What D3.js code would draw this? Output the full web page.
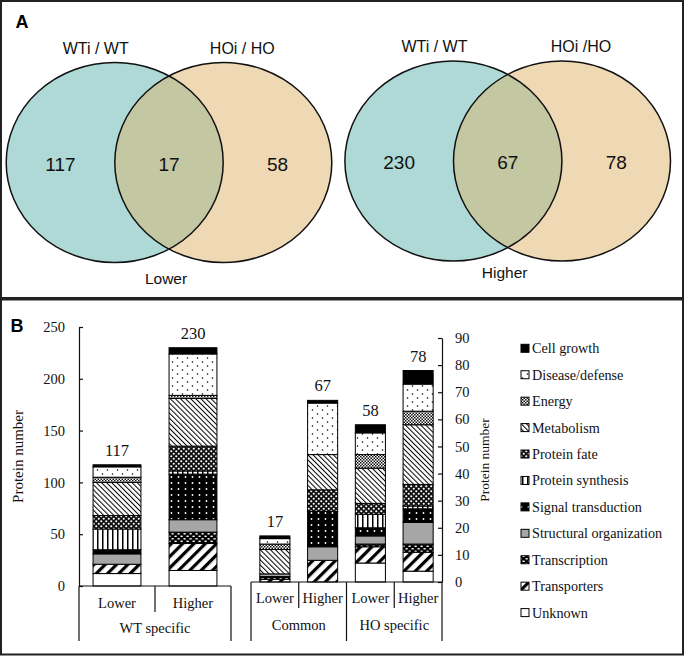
<!DOCTYPE html>
<html><head><meta charset="utf-8">
<script src="https://cdn.jsdelivr.net/npm/d3@7"></script>
<style>body{margin:0;background:#fff}svg{display:block}</style>
</head><body><svg id="c" width="685" height="656"></svg>
<script>
// ---------- DATA ----------
const vennTitles = ["Lower", "Higher"];
const vennLeftSet = ["WTi / WT", "WTi / WT"];
const vennRightSet = ["HOi / HO", "HOi /HO"];
const vennCounts = [[117, 17, 58], [230, 67, 78]];

const legendCategories = ["Cell growth", "Disease/defense", "Energy", "Metabolism", "Protein fate",
  "Protein synthesis", "Signal transduction", "Structural organization", "Transcription", "Transporters", "Unknown"];

const leftGroups = ["WT specific"];
const leftBars = ["Lower", "Higher"];
const rightGroups = ["Common", "HO specific"];
const rightBars = ["Lower", "Higher", "Lower", "Higher"];

// values in legend order
const wtLower      = [2, 10, 5, 32, 13, 20, 4, 10, 0, 9, 12];
const wtHigher     = [6, 40, 3, 46, 24, 3, 44, 12, 11, 26, 15];
const commonLower  = [1, 2, 2, 9, 0, 0, 0, 1, 1, 1, 0];
const commonHigher = [1, 19, 0, 13, 8, 0, 13, 5, 0, 8, 0];
const hoLower      = [3, 8, 5, 13, 4, 5, 3, 3, 1, 6, 7];
const hoHigher     = [5, 10, 5, 22, 8, 1, 5, 8, 3, 7, 4];

const leftTicks = [0, 50, 100, 150, 200, 250];
const rightTicks = [0, 10, 20, 30, 40, 50, 60, 70, 80, 90];

// ---------- SETUP ----------
const svg = d3.select("#c");
const defs = svg.append("defs");
const SERIF = "'Liberation Serif','Times New Roman',serif";
const SANS = "'Liberation Sans',Arial,sans-serif";

function pattern(id, w, h, bg, draw, transform) {
  const p = defs.append("pattern").attr("id", id).attr("patternUnits", "userSpaceOnUse")
    .attr("width", w).attr("height", h);
  if (transform) p.attr("patternTransform", transform);
  p.append("rect").attr("width", w).attr("height", h).attr("fill", bg);
  draw(p);
}
pattern("p-dis", 10, 8, "#fff", p => {
  p.append("circle").attr("cx", 2.5).attr("cy", 2).attr("r", 0.8).attr("fill", "#000");
  p.append("circle").attr("cx", 7.5).attr("cy", 6).attr("r", 0.8).attr("fill", "#000");
});
pattern("p-energy", 3, 3, "#fff", p => {
  p.append("rect").attr("width", 1.5).attr("height", 1.5).attr("fill", "#111");
  p.append("rect").attr("x", 1.5).attr("y", 1.5).attr("width", 1.5).attr("height", 1.5).attr("fill", "#111");
});
pattern("p-met", 3.6, 4, "#fff", p => {
  p.append("rect").attr("width", 1).attr("height", 4).attr("fill", "#000");
}, "rotate(-45)");
pattern("p-fate", 5, 5, "#111", p => {
  p.append("circle").attr("cx", 1.25).attr("cy", 1.25).attr("r", 1.05).attr("fill", "#fff");
  p.append("circle").attr("cx", 3.75).attr("cy", 3.75).attr("r", 1.05).attr("fill", "#fff");
});
pattern("p-synth", 5, 5, "#fff", p => {
  p.append("rect").attr("x", 2).attr("width", 1.5).attr("height", 5).attr("fill", "#000");
});
pattern("p-sig", 7, 6, "#000", p => {
  p.append("circle").attr("cx", 3.5).attr("cy", 3).attr("r", 0.9).attr("fill", "#fff");
});
pattern("p-transc", 6, 5, "#000", p => {
  p.append("rect").attr("x", 0.5).attr("y", 0.6).attr("width", 2.2).attr("height", 1.4).attr("fill", "#fff");
  p.append("rect").attr("x", 3.5).attr("y", 3.1).attr("width", 2.2).attr("height", 1.4).attr("fill", "#fff");
});
pattern("p-transp", 8, 8, "#fff", p => {
  p.append("rect").attr("width", 3.2).attr("height", 8).attr("fill", "#000");
}, "rotate(45)");

const fills = {
  "Cell growth": "#000", "Disease/defense": "url(#p-dis)", "Energy": "url(#p-energy)",
  "Metabolism": "url(#p-met)", "Protein fate": "url(#p-fate)", "Protein synthesis": "url(#p-synth)",
  "Signal transduction": "url(#p-sig)", "Structural organization": "#a6a6a6",
  "Transcription": "url(#p-transc)", "Transporters": "url(#p-transp)", "Unknown": "#fff"
};

// ---------- FRAMES ----------
svg.append("rect").attr("x", 1).attr("y", 1).attr("width", 682).attr("height", 297)
  .attr("fill", "none").attr("stroke", "#222").attr("stroke-width", 2);
svg.append("rect").attr("x", 1).attr("y", 299.5).attr("width", 682).attr("height", 355)
  .attr("fill", "none").attr("stroke", "#222").attr("stroke-width", 2);
svg.append("text").attr("x", 22).attr("y", 28).attr("text-anchor", "middle")
  .attr("font-family", SANS).attr("font-weight", "bold").attr("font-size", 18).text("A");
svg.append("text").attr("x", 17).attr("y", 332).attr("text-anchor", "middle")
  .attr("font-family", SANS).attr("font-weight", "bold").attr("font-size", 18).text("B");

// ---------- VENN ----------
const vennCx = [169, 507.7], vennCy = [162.5, 161], vennOff = 54.3, rx = 108.5, ry = 100;
const cBlue = "#aed9d6", cBeige = "#eed9b4", cOver = "#c3c7a2";
vennCounts.forEach((counts, k) => {
  const g = svg.append("g");
  const cxA = vennCx[k] - vennOff, cxB = vennCx[k] + vennOff, cy = vennCy[k];
  const clipId = "clipv" + k;
  defs.append("clipPath").attr("id", clipId).append("ellipse")
    .attr("cx", cxA).attr("cy", cy).attr("rx", rx).attr("ry", ry);
  g.append("ellipse").attr("cx", cxA).attr("cy", cy).attr("rx", rx).attr("ry", ry).attr("fill", cBlue);
  g.append("ellipse").attr("cx", cxB).attr("cy", cy).attr("rx", rx).attr("ry", ry).attr("fill", cBeige);
  g.append("ellipse").attr("cx", cxB).attr("cy", cy).attr("rx", rx).attr("ry", ry).attr("fill", cOver)
    .attr("clip-path", `url(#${clipId})`);
  [cxA, cxB].forEach(cx => g.append("ellipse").attr("cx", cx).attr("cy", cy).attr("rx", rx).attr("ry", ry)
    .attr("fill", "none").attr("stroke", "#111").attr("stroke-width", 1.5));
  const numX = [cxA - rx / 2, vennCx[k], cxB + rx / 2];
  counts.forEach((v, i) => g.append("text").attr("x", numX[i]).attr("y", cy + 8)
    .attr("text-anchor", "middle").attr("font-family", SANS).attr("font-size", 19).attr("fill", "#111").text(v));
  g.append("text").attr("x", cxA - 19).attr("y", cy - 109).attr("text-anchor", "middle")
    .attr("font-family", SANS).attr("font-size", 16).attr("fill", "#111").text(vennLeftSet[k]);
  g.append("text").attr("x", cxB + 19).attr("y", cy - 109).attr("text-anchor", "middle")
    .attr("font-family", SANS).attr("font-size", 16).attr("fill", "#111").text(vennRightSet[k]);
  g.append("text").attr("x", vennCx[k] - 3).attr("y", cy + 121 - k * 4).attr("text-anchor", "middle")
    .attr("font-family", SANS).attr("font-size", 15.5).attr("fill", "#111").text(vennTitles[k]);
});

// ---------- BARS ----------
const stackOrder = legendCategories.slice().reverse();
function rows(list) {
  return list.map(vals => { const o = {}; legendCategories.forEach((c, i) => o[c] = vals[i]); return o; });
}
function drawChart(opts) {
  const { data, x, y, labels, groups, groupSize, labelY, groupY, shortEnd, longEnd } = opts;
  const g = svg.append("g");
  const bw = x.bandwidth(), barW = bw * 0.63;
  const series = d3.stack().keys(stackOrder)(rows(data));
  series.forEach(s => {
    s.forEach((d, i) => {
      if (d[1] - d[0] <= 0) return;
      g.append("rect").attr("x", x(i) + (bw - barW) / 2).attr("y", y(d[1]))
        .attr("width", barW).attr("height", y(d[0]) - y(d[1]))
        .attr("fill", fills[s.key]).attr("stroke", "#000").attr("stroke-width", 1);
    });
  });
  // totals
  data.forEach((vals, i) => {
    const t = d3.sum(vals);
    g.append("text").attr("x", x(i) + bw / 2).attr("y", y(t) - 9).attr("text-anchor", "middle")
      .attr("font-family", SERIF).attr("font-size", 16.5).attr("fill", "#111").text(t);
  });
  // category axis
  const [x0, x1] = x.range();
  const base = y(0);
  g.append("line").attr("x1", x0).attr("x2", x1).attr("y1", base).attr("y2", base)
    .attr("stroke", "#111").attr("stroke-width", 1.2);
  data.forEach((v, i) => {
    const isGroupEdge = i % groupSize === 0;
    g.append("line").attr("x1", x(i)).attr("x2", x(i)).attr("y1", base).attr("y2", isGroupEdge ? longEnd : shortEnd)
      .attr("stroke", "#111").attr("stroke-width", 1.2);
    g.append("text").attr("x", x(i) + bw / 2).attr("y", labelY).attr("text-anchor", "middle")
      .attr("font-family", SERIF).attr("font-size", 14.5).attr("fill", "#111").text(labels[i]);
  });
  g.append("line").attr("x1", x1).attr("x2", x1).attr("y1", base).attr("y2", longEnd)
    .attr("stroke", "#111").attr("stroke-width", 1.2);
  groups.forEach((name, j) => {
    const cx = (x(j * groupSize) + x(j * groupSize + groupSize - 1) + bw) / 2;
    g.append("text").attr("x", cx).attr("y", groupY).attr("text-anchor", "middle")
      .attr("font-family", SERIF).attr("font-size", 14.5).attr("fill", "#111").text(name);
  });
}

const xL = d3.scaleBand().domain(d3.range(leftBars.length)).range([79, 231]);
const yL = d3.scaleLinear().domain([0, 250]).range([586, 327]);
drawChart({ data: [wtLower, wtHigher], x: xL, y: yL, labels: leftBars, groups: leftGroups, groupSize: 2,
  labelY: 608, groupY: 633, shortEnd: 612, longEnd: 641 });

const xR = d3.scaleBand().domain(d3.range(rightBars.length)).range([251, 442]);
const yR = d3.scaleLinear().domain([0, 90]).range([582, 338]);
drawChart({ data: [commonLower, commonHigher, hoLower, hoHigher], x: xR, y: yR, labels: rightBars,
  groups: rightGroups, groupSize: 2, labelY: 603, groupY: 630, shortEnd: 608, longEnd: 641 });

// value axes
function styleAxis(g) {
  g.select(".domain").attr("stroke", "#111").attr("stroke-width", 1.2);
  g.selectAll(".tick line").attr("stroke", "#111").attr("stroke-width", 1.2);
  g.selectAll(".tick text").attr("font-family", SERIF).attr("font-size", 14.5).attr("fill", "#111");
}
svg.append("g").attr("transform", "translate(79,0)")
  .call(d3.axisLeft(yL).tickValues(leftTicks).tickSizeInner(-4).tickSizeOuter(0).tickPadding(14))
  .call(styleAxis);
svg.append("g").attr("transform", "translate(442,0)")
  .call(d3.axisRight(yR).tickValues(rightTicks).tickSizeInner(-4).tickSizeOuter(0).tickPadding(13))
  .call(styleAxis);

svg.append("text").attr("transform", `translate(18,${(yL(0) + yL(250)) / 2}) rotate(-90)`)
  .attr("text-anchor", "middle").attr("dominant-baseline", "central")
  .attr("font-family", SERIF).attr("font-size", 15).attr("fill", "#111").text("Protein number");
svg.append("text").attr("transform", `translate(484,${(yR(0) + yR(90)) / 2}) rotate(-90)`)
  .attr("text-anchor", "middle").attr("dominant-baseline", "central")
  .attr("font-family", SERIF).attr("font-size", 13.5).attr("fill", "#111").text("Protein number");

// legend
const lg = svg.append("g");
legendCategories.forEach((c, i) => {
  const cy = 348.3 + i * 26.43;
  lg.append("rect").attr("x", 521).attr("y", cy - 4).attr("width", 8).attr("height", 8)
    .attr("fill", fills[c]).attr("stroke", "#000").attr("stroke-width", 1);
  lg.append("text").attr("x", 532).attr("y", cy).attr("dominant-baseline", "central")
    .attr("font-family", SERIF).attr("font-size", 14.2).attr("fill", "#111").text(c);
});
</script></body></html>
